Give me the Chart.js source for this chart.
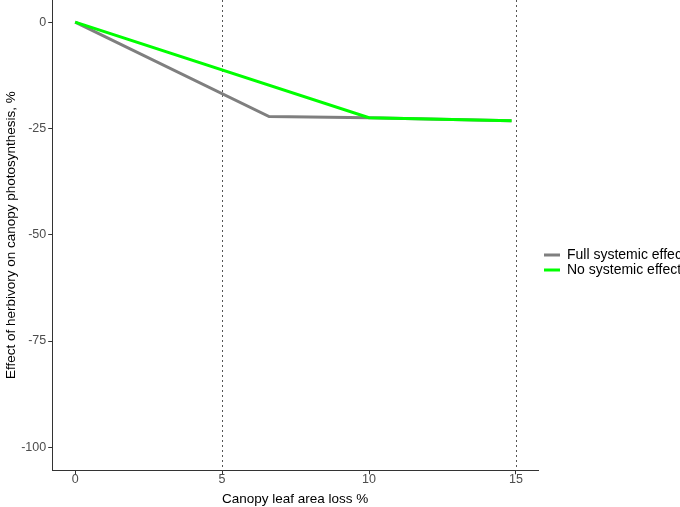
<!DOCTYPE html>
<html>
<head>
<meta charset="utf-8">
<script src="https://cdn.jsdelivr.net/npm/chart.js@4/dist/chart.umd.min.js"></script>
<style>
  html, body { margin: 0; padding: 0; background: #fff; }
  #wrap { width: 680px; height: 507px; overflow: hidden; }
</style>
</head>
<body>
<div id="wrap"><canvas id="herbivoryChart" width="680" height="507"></canvas></div>
<script>
// values
const fullX = [0, 6.6, 10, 14.85];
const fullY = [0, -22.2, -22.5, -23.2];
const noneX = [0, 10, 14.85];
const noneY = [0, -22.5, -23.2];
const xTicks = [0, 5, 10, 15];
const yTicks = [0, -25, -50, -75, -100];
const vLines = [5, 15];

function toPoints(xs, ys) {
    return xs.map(function (x, i) { return { x: x, y: ys[i] }; });
}

const dottedLines = {
    id: 'dottedLines',
    beforeDatasetsDraw: function (chart) {
        const ctx = chart.ctx;
        const area = chart.chartArea;
        const xs = chart.scales.x;
        ctx.save();
        ctx.strokeStyle = '#555555';
        ctx.lineWidth = 1;
        ctx.setLineDash([2, 3]);
        vLines.forEach(function (v) {
            const px = Math.round(xs.getPixelForValue(v)) + 0.5;
            ctx.beginPath();
            ctx.moveTo(px, area.top);
            ctx.lineTo(px, area.bottom);
            ctx.stroke();
        });
        ctx.restore();
    }
};

// nudge the legend a little to the right, like the ggplot original
const legendShift = {
    id: 'legendShift',
    afterLayout: function (chart) {
        if (chart.legend) {
            chart.legend.left += 5;
            chart.legend.right += 5;
        }
    }
};

const family = 'Liberation Sans, Arial, sans-serif';
const tickFont = { family: family, size: 12.5 };
const titleFont = { family: family, size: 13.5 };

new Chart(document.getElementById('herbivoryChart').getContext('2d'), {
    type: 'scatter',
    data: {
        datasets: [
            {
                label: 'Full systemic effect',
                data: toPoints(fullX, fullY),
                showLine: true,
                borderColor: '#7f7f7f',
                backgroundColor: '#7f7f7f',
                borderWidth: 3,
                pointRadius: 0,
                tension: 0,
                order: 2
            },
            {
                label: 'No systemic effect',
                data: toPoints(noneX, noneY),
                showLine: true,
                borderColor: '#00ff00',
                backgroundColor: '#00ff00',
                borderWidth: 3,
                pointRadius: 0,
                tension: 0,
                order: 1
            }
        ]
    },
    options: {
        responsive: false,
        animation: false,
        layout: { padding: { top: 0, right: 0, left: 0, bottom: 0 } },
        plugins: {
            tooltip: { enabled: false },
            legend: {
                position: 'right',
                maxWidth: 142,
                title: { display: true, text: ' ', font: { size: 10 }, padding: 3 },
                labels: {
                    usePointStyle: true,
                    pointStyle: 'line',
                    pointStyleWidth: 16,
                    boxWidth: 10,
                    padding: 1,
                    color: '#000',
                    font: { family: family, size: 14 },
                    sort: function (a, b) { return a.datasetIndex - b.datasetIndex; }
                }
            }
        },
        scales: {
            x: {
                type: 'linear',
                min: -0.78,
                max: 15.75,
                afterBuildTicks: function (scale) {
                    scale.ticks = xTicks.map(function (v) { return { value: v }; });
                },
                ticks: { color: '#4d4d4d', font: tickFont, padding: -2.5 },
                grid: { display: true, drawOnChartArea: false, drawTicks: true, tickLength: 4, color: '#333' },
                border: { display: true, color: '#333', width: 1 },
                title: {
                    display: true,
                    text: 'Canopy leaf area loss %',
                    color: '#000',
                    font: titleFont,
                    padding: { top: 6.5, bottom: 0 }
                }
            },
            y: {
                type: 'linear',
                min: -105.4,
                max: 5.2,
                afterBuildTicks: function (scale) {
                    scale.ticks = yTicks.map(function (v) { return { value: v }; });
                },
                afterFit: function (scale) {
                    scale.paddingTop = 0;
                    scale.paddingBottom = 0;
                },
                ticks: { color: '#4d4d4d', font: tickFont, padding: 2 },
                grid: { display: true, drawOnChartArea: false, drawTicks: true, tickLength: 4, color: '#333' },
                border: { display: true, color: '#333', width: 1 },
                title: {
                    display: true,
                    text: 'Effect of herbivory on canopy photosynthesis, %',
                    color: '#000',
                    font: titleFont,
                    padding: { top: 3, bottom: 0 }
                }
            }
        }
    },
    plugins: [dottedLines, legendShift]
});
</script>
</body>
</html>
